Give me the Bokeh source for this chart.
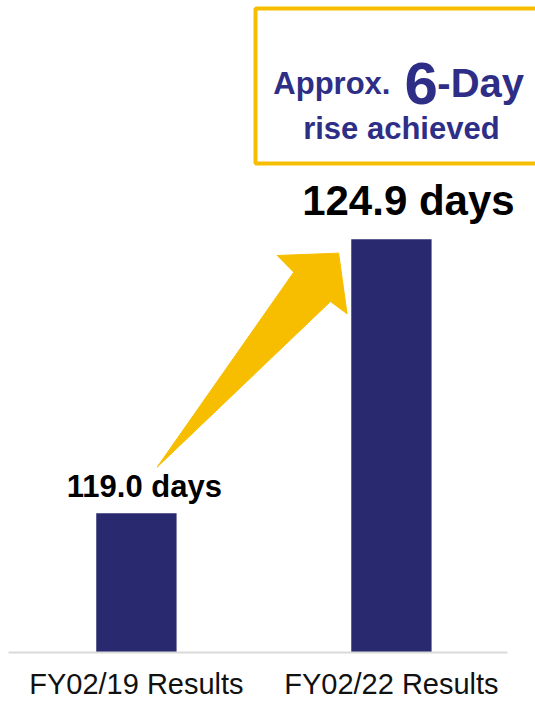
from bokeh.plotting import figure
from bokeh.models import Range1d, FixedTicker, ColumnDataSource, LabelSet, Label
from bokeh.core.properties import value
from bokeh.embed import file_html
from bokeh.resources import INLINE

# ---- data ----
categories = ["FY02/19 Results", "FY02/22 Results"]
values = [119.0, 124.9]
value_labels = ["119.0 days", "124.9 days"]
headline_parts = ["Approx.", "6", "-Day"]
subline = "rise achieved"

# ---- styling ----
BAR = "#29296F"
NAVY = "#2E2E87"
GOLD = "#F7BE00"
FONT = "Liberation Sans"
Y0 = 116.0

xs = list(range(len(categories)))

p = figure(width=535, height=702, output_backend="svg", toolbar_location=None,
           x_range=Range1d(-0.533, 1.565), y_range=Range1d(Y0, 130.04),
           y_axis_location=None, min_border_left=0, min_border_right=0,
           min_border_top=0, min_border_bottom=0)
p.outline_line_color = None
p.grid.visible = False
p.background_fill_color = "white"
p.border_fill_color = "white"

# x axis
ax = p.xaxis[0]
ax.ticker = FixedTicker(ticks=xs)
ax.major_label_overrides = {i: c for i, c in zip(xs, categories)}
ax.major_tick_line_color = None
ax.minor_tick_line_color = None
ax.axis_line_color = "#D9D9D9"
ax.axis_line_width = 2
ax.bounds = (-0.502, 1.455)
ax.major_label_text_font = FONT
ax.major_label_text_font_size = "29px"
ax.major_label_text_color = "#111111"
ax.major_label_standoff = 9

# annotation box (extends past the right edge)
p.quad(left=[0.467], right=[3.0], top=[129.87], bottom=[126.53],
       fill_color="white", line_color=GOLD, line_width=4)

# arrow from first bar to second bar
tail = (xs[0] + 0.081, values[0] + 0.99)
tip = (xs[1] - 0.207, values[1] - 0.30)
head = [(-0.241, -0.051), (-0.176, -0.411), (-0.032, -1.042), (0.033, -1.307)]
ax_pts = [tail[0], tip[0] + head[1][0], tip[0] + head[0][0], tip[0],
          tip[0] + head[3][0], tip[0] + head[2][0]]
ay_pts = [tail[1], tip[1] + head[1][1], tip[1] + head[0][1], tip[1],
          tip[1] + head[3][1], tip[1] + head[2][1]]
p.patch(ax_pts, ay_pts, fill_color=GOLD, line_color=GOLD, line_width=1)

# bars
src = ColumnDataSource(dict(x=xs, top=values, label=value_labels,
                            size=["31px", "42px"], xo=[8, 17], yo=[16, 24]))
p.vbar(x="x", top="top", bottom=Y0, width=0.315, source=src,
       fill_color=BAR, line_color=None)
p.add_layout(LabelSet(x="x", y="top", text="label", source=src,
                      x_offset="xo", y_offset="yo",
                      text_font=value(FONT), text_font_style="bold",
                      text_font_size="size", text_color="black",
                      text_align="center", text_baseline="alphabetic"))

# headline text in box
def add_label(x, y, text, size, align="left"):
    p.add_layout(Label(x=x, y=y, text=text, text_font=FONT,
                       text_font_style="bold", text_font_size=size,
                       text_color=NAVY, text_align=align,
                       text_baseline="alphabetic"))

add_label(0.537, 128.26, headline_parts[0], "31px")
add_label(1.051, 128.26, headline_parts[1], "60px")
add_label(1.180, 128.26, headline_parts[2], "40px")
add_label(1.039, 127.29, subline, "31px", align="center")

open("out.html", "w").write(file_html(p, INLINE))
